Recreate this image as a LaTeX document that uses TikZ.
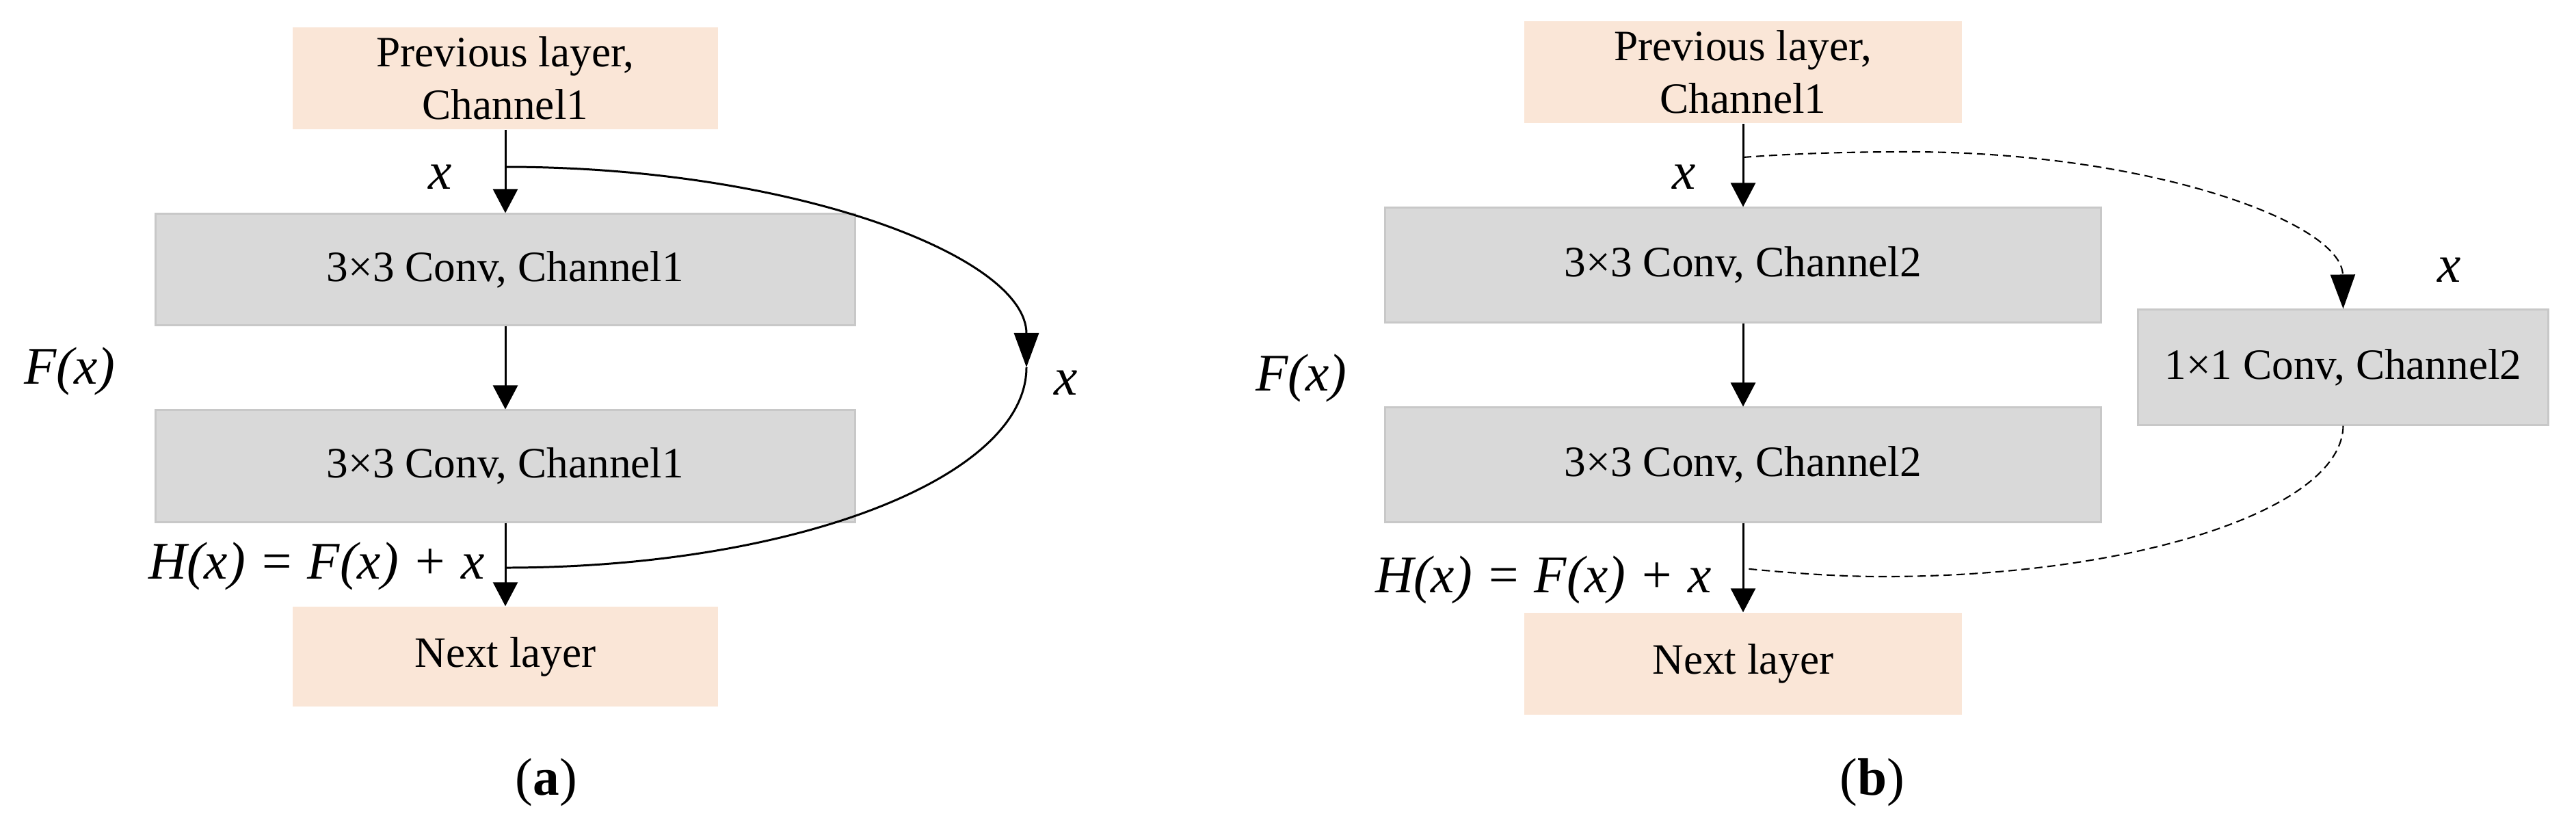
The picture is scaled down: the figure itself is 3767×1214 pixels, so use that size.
\documentclass[tikz,border=0pt]{standalone}
\usepackage{fontspec}
\setmainfont{Liberation Serif}
\usetikzlibrary{arrows.meta}
\definecolor{peachc}{RGB}{250,230,215}
\definecolor{grayf}{RGB}{217,217,217}
\definecolor{grayb}{RGB}{200,200,200}
\newcommand{\mybxfont}{\fontsize{18}{21.8}\selectfont}
\newcommand{\mylbfont}{\fontsize{22}{26}\selectfont\itshape}
\newcommand{\mycapfont}{\fontsize{22}{26}\selectfont}
\begin{document}
\begin{tikzpicture}[x=0.01cm,y=0.01cm,
  peachbox/.style={fill=peachc, inner sep=0pt, align=center, font=\mybxfont},
  graybox/.style={fill=grayf, draw=grayb, line width=0.85pt, inner sep=0pt, align=center, font=\mybxfont},
  lbl/.style={inner sep=0pt, font=\mylbfont},
  captext/.style={inner sep=0pt, font=\mycapfont},
  arr/.style={line width=0.85pt, -{Triangle[length=0.35cm,width=0.36cm]}},
  curvearr/.style={line width=0.85pt, -{Triangle[length=0.5cm,width=0.36cm]}},
  curveline/.style={line width=0.85pt},
  dashline/.style={line width=0.6pt, dash pattern=on 0.12cm off 0.07cm},
  dasharr/.style={line width=0.6pt, dash pattern=on 0.12cm off 0.07cm, -{Triangle[length=0.5cm,width=0.36cm]}}
]
\useasboundingbox (0,0) rectangle (3767,-1214);

% ---------- panel (a) ----------
\node[peachbox, minimum width=6.22cm, minimum height=1.49cm] (aprev) at (739,-114.5) {Previous layer,\\Channel1};
\node[graybox, minimum width=10.23cm, minimum height=1.62cm] (aconv1) at (739,-394) {3×3 Conv, Channel1};
\node[graybox, minimum width=10.23cm, minimum height=1.63cm] (aconv2) at (739,-681.5) {3×3 Conv, Channel1};
\node[peachbox, minimum width=6.22cm, minimum height=1.46cm] (anext) at (739,-960) {Next layer};

\draw[arr] (aprev.south) -- (aconv1.north);
\draw[arr] (aconv1.south) -- (aconv2.north);
\draw[arr] (aconv2.south) -- (anext.north);

\coordinate (asplit) at (739,-244);
\coordinate (aright) at (1501,-537);
\coordinate (ajoin) at (739,-830);
\draw[curvearr] (asplit) .. controls (1160,-244) and (1501,-375) .. (aright);
\draw[curveline] (aright) .. controls (1501,-699) and (1160,-830) .. (ajoin);

\node[lbl] (ax1) at (644,-259) {x};
\node[lbl] (ax2) at (1559,-560) {x};
\node[lbl] (aF) at (102,-543) {F(x)};
\node[lbl, anchor=east] (aH) at (709,-828) {H(x) = F(x) + x};
\node[captext] (acap) at (799,-1144) {(\textbf{a})};

% ---------- panel (b) ----------
\node[peachbox, minimum width=6.40cm, minimum height=1.49cm] (bprev) at (2549,-105.5) {Previous layer,\\Channel1};
\node[graybox, minimum width=10.47cm, minimum height=1.67cm] (bconv1) at (2549,-387.5) {3×3 Conv, Channel2};
\node[graybox, minimum width=10.47cm, minimum height=1.67cm] (bconv2) at (2549,-679.5) {3×3 Conv, Channel2};
\node[peachbox, minimum width=6.40cm, minimum height=1.49cm] (bnext) at (2549,-970.5) {Next layer};
\node[graybox, minimum width=5.99cm, minimum height=1.68cm] (b11) at (3426.5,-537) {1×1 Conv, Channel2};

\draw[arr] (bprev.south) -- (bconv1.north);
\draw[arr] (bconv1.south) -- (bconv2.north);
\draw[arr] (bconv2.south) -- (bnext.north);

\coordinate (bsplit) at (2549,-230);
\coordinate (bjoin) at (2549,-831);
\draw[dasharr] (bsplit) .. controls (2630,-224) and (2710,-222) .. (2791,-222)
   .. controls (3141,-222) and (3425,-325) .. (b11.north);
\draw[dashline] (b11.south) .. controls (3425,-744) and (3124,-843) .. (2753,-843)
   .. controls (2684,-843) and (2610,-837) .. (bjoin);

\node[lbl] (bx1) at (2463,-259) {x};
\node[lbl] (bx2) at (3582,-395) {x};
\node[lbl] (bF) at (1903,-553) {F(x)};
\node[lbl, anchor=east] (bH) at (2503,-848) {H(x) = F(x) + x};
\node[captext] (bcap) at (2738,-1144) {(\textbf{b})};
\end{tikzpicture}
\end{document}
